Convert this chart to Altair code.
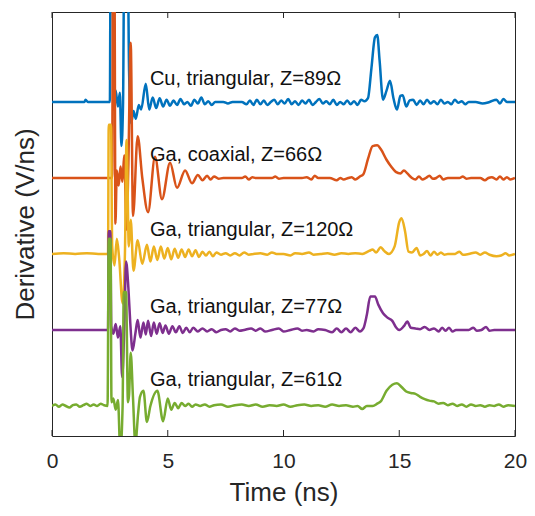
import altair as alt
import pandas as pd

# ---- measured waveforms (time in ns, derivative in V/ns, each trace relative to its own baseline) ----
cu_tri_89_t = [0, 1.4, 1.45, 1.55, 2.5, 2.53, 2.62, 2.67, 2.75, 2.85, 2.93, 3.0, 3.07, 3.12, 3.27, 3.33,
               3.42, 3.52, 3.62, 3.75, 3.85, 4.05, 4.2, 4.35, 4.5, 4.65, 4.8, 4.95, 5.1, 5.25, 5.4, 5.55,
               5.7, 5.85, 6.0, 6.15, 6.3, 6.45, 6.6, 6.75, 6.9, 7.05, 7.4, 7.6, 7.8, 8.2, 8.4, 8.55, 8.7,
               8.85, 9.0, 9.15, 9.3, 9.45, 9.6, 9.75, 9.9, 10.05, 10.2, 10.35, 10.5, 10.65, 10.8, 10.95,
               11.1, 11.25, 11.4, 11.55, 11.7, 11.85, 12.0, 12.15, 12.3, 12.45, 12.6, 12.75, 12.9, 13.05,
               13.2, 13.35, 13.5, 13.65, 13.8, 13.95, 14.05, 14.15, 14.3, 14.45, 14.6, 14.75, 14.9, 15.05,
               15.15, 15.3, 15.45, 15.6, 15.75, 15.9, 16.05, 16.2, 16.35, 16.5, 16.65, 16.8, 16.95, 17.1,
               17.25, 17.4, 17.55, 17.7, 17.85, 18.0, 18.3, 18.6, 18.9, 19.2, 19.35, 19.5, 19.65, 20.0]
cu_tri_89_v = [0, 0, 0.03, 0, 0, 1.9, 1.9, 0.05, 0.15, -0.06, 0.12, -0.58, 0.0, 1.9, 1.9, 0.4,
               -0.28, -0.12, -0.22, -0.04, -0.1, 0.24, -0.1, 0.06, -0.08, 0.05, -0.06, 0.03, -0.05, 0.02,
               -0.04, 0.04, -0.03, 0.0, -0.05, 0.03, -0.02, 0.06, -0.03, 0.01, -0.04, 0.0, 0.0, -0.02, 0.0,
               0.0, -0.03, 0.02, -0.04, 0.03, -0.03, 0.02, -0.04, 0.0, 0.03, -0.03, 0.02, -0.02, 0.04, -0.03,
               0.01, -0.04, 0.02, -0.02, 0.03, -0.04, 0.0, 0.04, -0.02, 0.01, -0.03, 0.03, -0.04, 0.0, -0.03,
               0.02, -0.03, 0.01, -0.04, 0.03, 0.01, 0.05, 0.45, 0.85, 0.88, 0.55, 0.03, 0.15, 0.28, 0.05,
               -0.1, 0.08, 0.09, -0.06, 0.02, 0.03, -0.04, 0.02, -0.03, 0.03, -0.02, 0.01, -0.03, 0.03,
               -0.02, 0.0, -0.03, 0.03, -0.01, 0.01, -0.03, 0.0, 0.0, -0.02, 0.0, 0.03, -0.02, 0.04, 0.0, 0.0]

ga_coax_66_t = [0, 2.6, 2.63, 2.7, 2.74, 2.8, 2.88, 2.96, 3.04, 3.12, 3.22, 3.3, 3.4, 3.5, 3.7, 3.9,
                4.15, 4.45, 4.75, 5.1, 5.4, 5.75, 6.05, 6.3, 6.5, 6.7, 6.85, 7.0, 7.2, 7.4, 8.2, 8.35, 8.5,
                8.65, 8.8, 9.5, 9.65, 9.8, 10.0, 10.8, 11.0, 11.2, 11.35, 11.5, 12.0, 12.3, 12.45, 12.6,
                12.8, 12.95, 13.1, 13.3, 13.45, 13.65, 13.85, 14.05, 14.2, 14.45, 14.65, 14.85, 15.05, 15.2,
                15.35, 15.55, 15.7, 15.85, 16.0, 16.15, 16.3, 16.45, 16.6, 16.75, 16.9, 17.1, 17.6, 17.75,
                17.9, 18.1, 18.5, 18.7, 18.85, 19.0, 19.2, 19.35, 19.5, 19.65, 19.8, 20.0]
ga_coax_66_v = [0, 0, 2.5, 2.5, -0.6, 0.1, -0.1, 0.15, -0.05, 0.3, -0.68, 0.2, 1.78, -0.5, 0.55, 0.0,
                -0.45, 0.28, -0.28, 0.2, -0.13, 0.1, -0.07, 0.04, -0.03, 0.03, -0.02, 0.02, -0.01, 0.0, 0.0,
                0.02, -0.02, 0.01, 0.0, 0.0, 0.02, -0.01, 0.0, 0.0, 0.01, -0.02, 0.03, 0.0, 0.0, -0.03, 0.0,
                -0.02, 0.0, 0.01, -0.02, 0.02, 0.05, 0.25, 0.42, 0.43, 0.38, 0.24, 0.15, 0.08, 0.06, 0.1,
                0.06, 0.0, -0.02, 0.02, -0.02, 0.0, 0.03, -0.01, 0.0, 0.03, -0.02, 0.0, 0.0, 0.02, -0.01,
                0.0, 0.0, -0.03, 0.0, 0.01, -0.02, 0.02, -0.02, 0.01, -0.02, 0.0]

ga_tri_120_t = [0, 0.5, 1.0, 1.5, 2.0, 2.42, 2.45, 2.55, 2.6, 2.7, 2.8, 2.9, 3.05, 3.15, 3.22, 3.32,
                3.4, 3.52, 3.7, 3.9, 4.1, 4.25, 4.4, 4.55, 4.7, 4.85, 5.0, 5.15, 5.3, 5.45, 5.6, 5.75, 5.9,
                6.05, 6.2, 6.35, 6.5, 6.65, 6.8, 6.95, 7.1, 7.3, 7.5, 7.7, 7.9, 8.1, 8.3, 8.5, 8.7, 9.0, 9.3,
                9.5, 9.7, 10.0, 10.3, 10.5, 10.8, 11.1, 11.3, 11.6, 11.9, 12.2, 12.5, 12.8, 13.1, 13.4, 13.7,
                13.85, 14.0, 14.2, 14.35, 14.55, 14.8, 15.0, 15.1, 15.25, 15.4, 15.55, 15.75, 15.9, 16.05,
                16.2, 16.35, 16.5, 16.65, 16.8, 16.95, 17.1, 17.4, 17.6, 17.75, 18.0, 18.3, 18.5, 18.7,
                18.9, 19.2, 19.4, 19.6, 19.75, 20.0]
ga_tri_120_v = [0, 0.01, 0, 0.01, 0, 0, 1.7, 1.7, 0.1, -0.15, 0.2, -0.05, -0.65, 0.0, 1.5, 0.1,
                0.45, -0.22, 0.18, -0.13, 0.12, -0.1, 0.1, -0.08, 0.1, -0.06, 0.08, -0.07, 0.07, -0.05, 0.06,
                -0.04, 0.06, -0.03, 0.05, -0.04, 0.03, -0.02, 0.03, -0.03, 0.02, -0.01, 0.01, -0.02, 0.01,
                -0.02, 0.02, -0.01, 0.0, 0.01, -0.01, 0.02, 0.0, 0.0, -0.02, 0.01, 0.0, 0.02, -0.01, 0.0,
                0.01, -0.01, 0.01, 0.0, 0.01, 0.0, 0.04, 0.06, 0.02, 0.09, 0.04, 0.0, 0.1, 0.42, 0.47, 0.3,
                0.03, 0.02, 0.08, -0.02, 0.0, 0.04, -0.02, 0.03, -0.01, 0.02, -0.01, 0.0, 0.0, 0.03, -0.01,
                0.0, 0.02, -0.01, 0.02, -0.01, -0.03, -0.02, 0.01, -0.02, 0.0]

ga_tri_77_t = [0, 2.42, 2.45, 2.52, 2.56, 2.65, 2.75, 2.85, 2.95, 3.03, 3.12, 3.2, 3.3, 3.38, 3.48,
               3.6, 3.7, 3.82, 3.95, 4.05, 4.15, 4.28, 4.4, 4.52, 4.65, 4.78, 4.9, 5.05, 5.2, 5.35, 5.5,
               5.65, 5.8, 5.95, 6.1, 6.3, 6.5, 6.7, 6.9, 7.1, 7.3, 7.5, 7.7, 7.9, 8.1, 8.3, 8.6, 8.8, 9.0,
               9.2, 9.5, 9.8, 10.0, 10.3, 10.6, 10.8, 11.0, 11.3, 11.5, 11.8, 12.1, 12.3, 12.5, 12.7, 12.9,
               13.1, 13.3, 13.45, 13.6, 13.75, 13.95, 14.1, 14.3, 14.5, 14.7, 14.85, 15.0, 15.2, 15.35,
               15.5, 15.7, 15.9, 16.1, 16.3, 16.5, 16.7, 16.85, 17.0, 17.15, 17.3, 17.45, 17.6, 18.0, 18.2,
               18.35, 18.55, 18.75, 18.9, 19.1, 19.5, 20.0]
ga_tri_77_v = [0, 0, 1.3, 1.3, 0.05, -0.05, 0.08, -0.1, 0.05, -0.62, 0.0, 0.9, 0.55, 0.1, -0.27,
               -0.05, 0.13, -0.1, 0.1, -0.06, 0.12, -0.08, 0.1, -0.05, 0.09, -0.04, 0.06, -0.05, 0.05, -0.03,
               0.05, -0.04, 0.03, -0.03, 0.03, -0.02, 0.02, -0.02, 0.01, -0.03, 0.0, 0.01, -0.02, 0.02,
               -0.01, 0.0, 0.02, -0.01, 0.02, -0.02, 0.0, 0.02, -0.02, 0.0, 0.02, -0.01, 0.0, -0.02, 0.01,
               0.0, -0.03, 0.02, -0.03, 0.02, -0.03, 0.03, -0.02, 0.02, 0.2, 0.44, 0.44, 0.33, 0.22, 0.16,
               0.12, 0.04, 0.0, 0.05, 0.11, 0.03, 0.02, 0.01, 0.04, 0.0, 0.02, -0.02, 0.03, -0.01, 0.03,
               -0.02, 0.0, 0.0, 0.0, 0.03, -0.01, 0.0, 0.04, -0.01, 0.0, 0.0, 0.0]

ga_tri_61_t = [0, 0.15, 0.3, 0.45, 0.6, 0.75, 0.9, 1.05, 1.2, 1.35, 1.5, 1.65, 1.8, 1.95, 2.1, 2.25,
               2.4, 2.45, 2.53, 2.57, 2.65, 2.75, 2.85, 2.95, 3.05, 3.1, 3.2, 3.28, 3.33, 3.4, 3.5, 3.6,
               3.72, 3.8, 3.95, 4.1, 4.25, 4.55, 4.8, 5.0, 5.15, 5.3, 5.45, 5.6, 5.75, 5.9, 6.05, 6.2, 6.4,
               6.6, 6.8, 7.0, 7.3, 7.6, 7.9, 8.2, 8.5, 8.8, 9.1, 9.4, 9.7, 10.0, 10.3, 10.6, 10.9, 11.2,
               11.5, 11.8, 12.1, 12.4, 12.7, 13.0, 13.2, 13.4, 13.6, 13.85, 14.05, 14.2, 14.45, 14.7, 14.9,
               15.1, 15.3, 15.5, 15.7, 15.9, 16.1, 16.3, 16.5, 16.7, 16.9, 17.1, 17.3, 17.5, 17.7, 17.9,
               18.1, 18.3, 18.5, 18.7, 18.9, 19.1, 19.3, 19.5, 19.7, 20.0]
ga_tri_61_v = [0, 0.02, -0.01, 0.02, 0.0, -0.02, 0.01, 0.02, -0.01, 0.01, 0.03, 0.0, 0.02, 0.0, 0.03,
               0.01, 0.0, 2.2, 2.2, 0.05, 0.1, -0.05, 0.08, -0.6, 0.0, 1.5, 1.5, 0.05, 0.15, 0.7, 0.1, -0.5,
               -0.1, 0.12, 0.2, -0.21, 0.0, 0.2, -0.2, 0.1, -0.05, 0.04, -0.03, 0.04, 0.0, 0.03, -0.01, 0.02,
               0.0, 0.02, -0.01, 0.01, 0.02, -0.01, 0.01, 0.02, 0.0, 0.02, -0.01, 0.01, 0.0, 0.02, -0.01,
               0.01, 0.02, 0.0, 0.01, -0.01, 0.02, 0.0, 0.01, -0.01, 0.0, -0.04, 0.0, 0.0, 0.03, 0.06, 0.2,
               0.28, 0.3, 0.25, 0.19, 0.17, 0.16, 0.12, 0.09, 0.07, 0.06, 0.03, 0.04, 0.01, 0.03, 0.0, 0.02,
               -0.01, 0.02, 0.0, 0.01, -0.01, 0.01, 0.0, 0.02, -0.01, 0.01, 0.0]

# trace names, vertical offsets (V/ns) and colours
series = [
    ("Cu, triangular, Z=89Ω", cu_tri_89_t, cu_tri_89_v, 4.0, "#0072BD"),
    ("Ga, coaxial, Z=66Ω", ga_coax_66_t, ga_coax_66_v, 3.0, "#D95319"),
    ("Ga, triangular, Z=120Ω", ga_tri_120_t, ga_tri_120_v, 2.0, "#EDB120"),
    ("Ga, triangular, Z=77Ω", ga_tri_77_t, ga_tri_77_v, 1.0, "#7E2F8E"),
    ("Ga, triangular, Z=61Ω", ga_tri_61_t, ga_tri_61_v, 0.0, "#77AC30"),
]

# label anchor points (time, offset level)
label_t = [4.23, 4.23, 4.23, 4.23, 4.23]
label_y = [4.30, 3.30, 2.32, 1.30, 0.34]

x_ticks = [0, 5, 10, 15, 20]

FONT = "Liberation Sans"
AX = "#262626"
W, H = 463, 424

x_scale = alt.Scale(domain=[0, 20], nice=False)
y_scale = alt.Scale(domain=[-0.395, 5.184], nice=False, zero=False)

x_axis = alt.Axis(values=x_ticks, title="Time (ns)", ticks=False, domain=False, grid=False,
                  labelFlush=False, labelFontSize=21, titleFontSize=26, labelPadding=14, titlePadding=8,
                  labelColor=AX, titleColor=AX, labelFont=FONT, titleFont=FONT,
                  titleFontWeight="normal")
y_axis = alt.Axis(labels=False, ticks=False, domain=False, grid=False,
                  title="Derivative (V/ns)", titleFontSize=26, titlePadding=14,
                  titleColor=AX, titleFont=FONT, titleFontWeight="normal")


def xenc(field="t:Q"):
    return alt.X(field, scale=x_scale, axis=x_axis)


def yenc(field="y:Q"):
    return alt.Y(field, scale=y_scale, axis=y_axis)


layers = []
for name, t, v, off, col in series:
    d = pd.DataFrame({"t": t, "v": v})
    d["y"] = d["v"] + off
    layers.append(
        alt.Chart(d).mark_line(clip=True, color=col, strokeWidth=2.5, interpolate="monotone")
        .encode(x=xenc(), y=yenc())
    )

labels = pd.DataFrame({"label": [s[0] for s in series], "t": label_t, "y": label_y})
text = alt.Chart(labels).mark_text(align="left", baseline="middle", fontSize=20, font=FONT,
                                   color="#111111").encode(x=xenc(), y=yenc(), text="label:N")

# inward tick marks on the bottom and top edges of the box
tick_df = pd.DataFrame({"t": x_ticks})
bottom_ticks = alt.Chart(tick_df).mark_rule(color=AX, strokeWidth=1).encode(
    x=xenc(), y=alt.value(H), y2=alt.value(H - 6))
top_ticks = alt.Chart(tick_df).mark_rule(color=AX, strokeWidth=1).encode(
    x=xenc(), y=alt.value(0), y2=alt.value(6))

chart = alt.layer(*layers, text, bottom_ticks, top_ticks).properties(
    width=W, height=H,
    autosize=alt.AutoSizeParams(type="none"),
    padding={"left": 52, "top": 12, "right": 20, "bottom": 80},
    background="white",
).configure_view(stroke=AX, strokeWidth=1)

chart.save("out.html", embed_options={"renderer": "svg", "actions": False})
